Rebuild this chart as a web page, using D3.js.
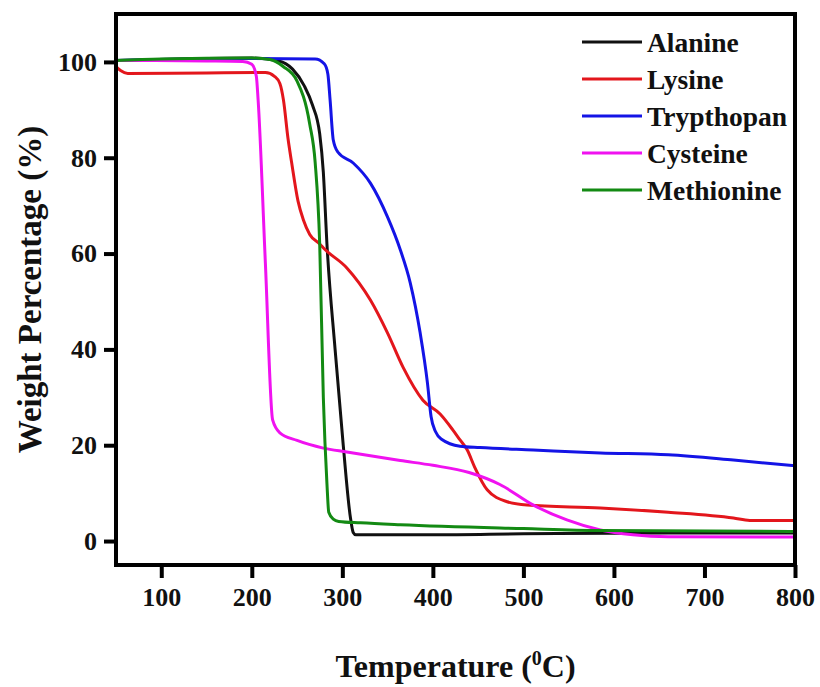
<!DOCTYPE html>
<html><head><meta charset="utf-8">
<script src="https://cdn.jsdelivr.net/npm/d3@7"></script>
<style>body{margin:0;background:#fff}</style>
</head><body>
<svg id="c" width="820" height="687"></svg>
<script>
// ---- data (Temperature °C, Weight %) ----
const seriesNames = ["Alanine", "Lysine", "Trypthopan", "Cysteine", "Methionine"];
const seriesColors = ["#111111", "#e3161c", "#1414e6", "#f012f0", "#138a13"];
const xTicks = [100, 200, 300, 400, 500, 600, 700, 800];
const yTicks = [0, 20, 40, 60, 80, 100];

const alanine = [[50,100.3],[120,100.6],[200,100.8],[230,100.2],[245,98.5],[258,95],[267,91],[275,85],[279,77],[283,62],[292,40],[301,20],[309,4.8],[312,1.8],[315,1.3],[400,1.3],[500,1.5],[660,1.7],[800,1.7]];
const lysine = [[50,99],[55,98.2],[63,97.6],[150,97.7],[215,97.8],[225,97],[231,95.5],[235,92],[240,84],[244,79],[251,71],[257,67],[264,64],[275,62],[280,61],[305,57],[331,50.3],[350,43.4],[367,36.3],[389,29.4],[408,26.5],[422,23.2],[430,21.1],[438,19],[446,15.5],[460,10.7],[482,8.2],[504,7.5],[585,6.9],[660,6.0],[732,4.8],[750,4.3],[800,4.3]];
const trypthopan = [[50,100.3],[200,100.7],[270,100.6],[280,99.6],[284,97.5],[286.5,92],[290,83.7],[295,81.2],[312,78.9],[331,74.7],[350,67.6],[364,60.8],[375,53.9],[386,43.4],[394,33],[398,26],[403,22.8],[410,21.2],[430,19.8],[452,19.5],[511,19],[585,18.4],[660,18],[732,16.9],[800,15.7]];
const cysteine = [[50,100.3],[150,100.2],[190,100.1],[200,99.5],[205,97],[207,92],[215,58],[223,25.3],[231,22.6],[250,21],[279,19.4],[305,18.6],[364,16.8],[400,15.8],[440,14.3],[474,11.8],[511,7.5],[548,4.4],[585,2.3],[621,1.3],[660,0.9],[800,0.85]];
const methionine = [[50,100.3],[100,100.6],[200,100.8],[220,100.5],[235,99],[250,96],[264,87],[270,79],[275,62],[279,30],[283,12],[285,6],[290,4.6],[296,4.1],[320,3.8],[364,3.4],[500,2.6],[585,2.2],[800,2.0]];
const allSeries = [alanine, lysine, trypthopan, cysteine, methionine];

// ---- layout ----
const svg = d3.select("#c");
const L = 116, R = 795, T = 14, B = 565;
const x = d3.scaleLinear().domain([50, 800]).range([L, R]);
const y = d3.scaleLinear().domain([-5, 110]).range([B, T]);
const font = "'Liberation Serif','Times New Roman',serif";

// curves
const line = d3.line().x(d => x(d[0])).y(d => y(d[1])).curve(d3.curveMonotoneX);
const g = svg.append("g");
allSeries.forEach((s, i) => {
  g.append("path").datum(s).attr("d", line)
    .attr("fill", "none").attr("stroke", seriesColors[i])
    .attr("stroke-width", 3).attr("stroke-linejoin", "round");
});

// frame
svg.append("rect").attr("x", L).attr("y", T).attr("width", R - L).attr("height", B - T)
  .attr("fill", "none").attr("stroke", "#000").attr("stroke-width", 4);

// axes
const xAxis = svg.append("g").attr("transform", `translate(0,${B})`)
  .call(d3.axisBottom(x).tickValues(xTicks).tickSize(13).tickPadding(10).tickFormat(d3.format("d")));
const yAxis = svg.append("g").attr("transform", `translate(${L},0)`)
  .call(d3.axisLeft(y).tickValues(yTicks).tickSize(12).tickPadding(7).tickFormat(d3.format("d")));
[xAxis, yAxis].forEach(a => {
  a.select(".domain").remove();
  a.selectAll(".tick line").attr("stroke", "#000").attr("stroke-width", 4);
  a.selectAll(".tick text").attr("font-family", font).attr("font-weight", "bold")
    .attr("font-size", 26).attr("fill", "#111");
});

// axis titles
const xt = svg.append("text").attr("x", (L + R) / 2).attr("y", 677).attr("text-anchor", "middle")
  .attr("font-family", font).attr("font-weight", "bold").attr("font-size", 32).attr("fill", "#111");
xt.append("tspan").text("Temperature (");
xt.append("tspan").text("0").attr("font-size", 20).attr("dy", -12);
xt.append("tspan").text("C)").attr("dy", 12);

svg.append("text").attr("transform", `translate(41,${(T + B) / 2}) rotate(-90)`)
  .attr("text-anchor", "middle").attr("font-family", font).attr("font-weight", "bold")
  .attr("font-size", 33).attr("fill", "#111").text("Weight Percentage (%)");

// legend
const lg = svg.append("g");
seriesNames.forEach((n, i) => {
  const yy = 42 + i * 37;
  lg.append("line").attr("x1", 582).attr("x2", 642).attr("y1", yy).attr("y2", yy)
    .attr("stroke", seriesColors[i]).attr("stroke-width", 3);
  lg.append("text").attr("x", 647).attr("y", yy).attr("dy", "0.35em")
    .attr("font-family", font).attr("font-weight", "bold").attr("font-size", 27.5)
    .attr("fill", "#111").text(n);
});
</script>
</body></html>
